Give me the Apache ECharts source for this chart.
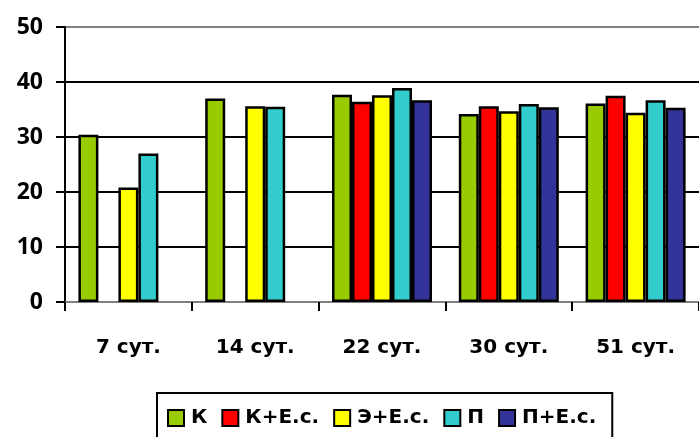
<!DOCTYPE html>
<html><head><meta charset="utf-8">
<script src="https://cdn.jsdelivr.net/npm/echarts@6/dist/echarts.min.js"></script>
<style>html,body{margin:0;padding:0;background:#fff}#c{width:699px;height:437px}</style>
</head><body><div id="c"></div>
<script>
const categories = ['7 сут.', '14 сут.', '22 сут.', '30 сут.', '51 сут.'];
const seriesNames = ['К', 'К+Е.с.', 'Э+Е.с.', 'П', 'П+Е.с.'];
const valK   = [30.4, 37.0, 37.7, 34.2, 36.1];
const valKEs = [null, null, 36.4, 35.6, 37.5];
const valEEs = [20.8, 35.6, 37.6, 34.7, 34.4];
const valP   = [27.0, 35.5, 38.9, 36.0, 36.7];
const valPEs = [null, null, 36.7, 35.4, 35.3];
const yTicks = [0, 10, 20, 30, 40, 50];
const colors = ['#99CC00', '#FF0000', '#FFFF00', '#33CCCC', '#333399'];

const font = '"Open Sans", "Liberation Sans", sans-serif';
const wideFont = '"DejaVu Sans", sans-serif';
const allVals = [valK, valKEs, valEEs, valP, valPEs];
const chart = echarts.init(document.getElementById('c'), null, {renderer: 'canvas'});
chart.setOption({
  animation: false,
  backgroundColor: '#fff',
  grid: {left: 65, top: 27, width: 643, height: 275, containLabel: false},
  legend: {
    left: 157, top: 393,
    padding: [15, 16, 20, 10],
    borderColor: '#000', borderWidth: 2,
    icon: 'rect',
    itemWidth: 16, itemHeight: 16, itemGap: 14,
    textStyle: {fontFamily: wideFont, fontWeight: 'bold', fontSize: 20, color: '#000', padding: [0, 0, 0, 2]},
    data: seriesNames
  },
  xAxis: {
    type: 'category', data: categories,
    axisLine: {lineStyle: {color: '#808080', width: 2}},
    axisTick: {show: true, length: 9, lineStyle: {color: '#000', width: 2}},
    axisLabel: {fontFamily: wideFont, fontWeight: 'bold', fontSize: 20, color: '#000', margin: 36}
  },
  yAxis: {
    type: 'value', min: yTicks[0], max: yTicks[yTicks.length - 1], interval: 10,
    axisLine: {show: true, lineStyle: {color: '#000', width: 2}},
    axisTick: {show: true, length: 9, lineStyle: {color: '#000', width: 2}},
    axisLabel: {fontFamily: font, fontWeight: 'bold', fontSize: 23, color: '#000', margin: 22},
    splitLine: {show: true, lineStyle: {color: ['#808080', '#000', '#000', '#000', '#000', '#808080'], width: 2}}
  },
  series: seriesNames.map((n, i) => ({
    name: n, type: 'bar', data: allVals[i],
    barWidth: 20, barGap: '0%', barCategoryGap: '22%',
    itemStyle: {color: colors[i], borderColor: '#000', borderWidth: 2.5}
  }))
});
</script></body></html>
